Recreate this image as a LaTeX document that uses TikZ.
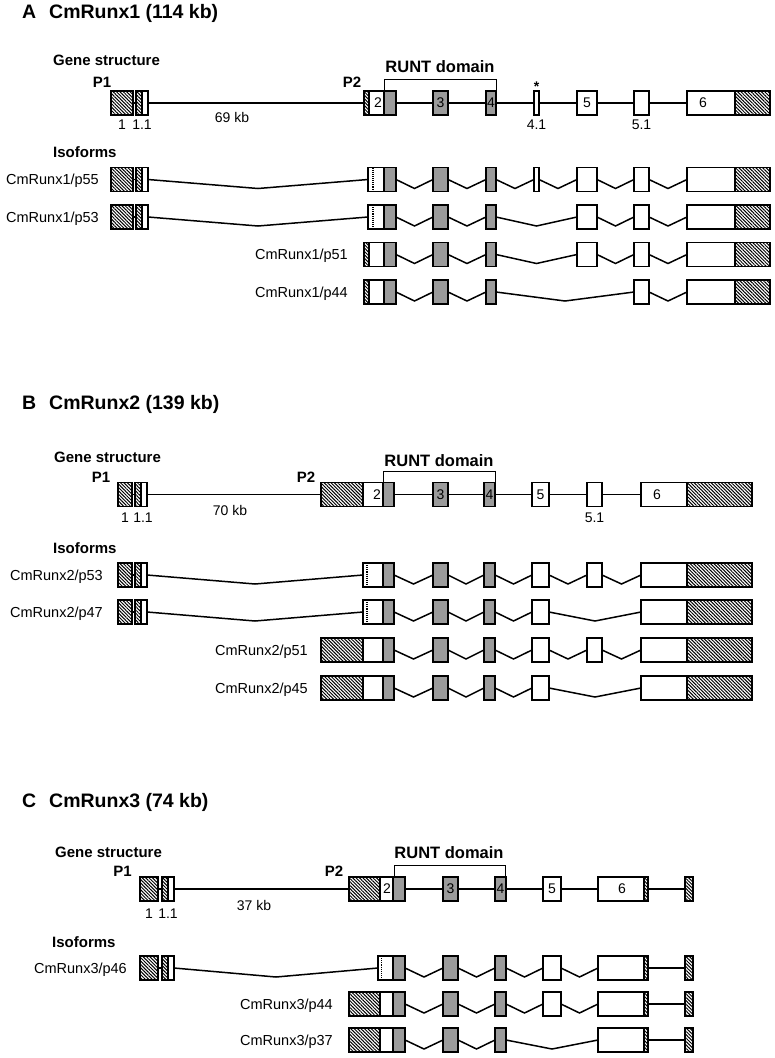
\documentclass[tikz,border=0pt]{standalone}
\usepackage{fontspec}
\setmainfont{Liberation Sans}
\usetikzlibrary{patterns.meta}
\definecolor{runtgray}{RGB}{155,155,155}

\begin{document}
\begin{tikzpicture}
  [x = 1pt, y = -1pt,
   box/.style = {draw, line width = 1.8pt},
   blank/.style = {box, fill = white},
   runt/.style = {box, fill = runtgray},
   hatch/.style = {box, preaction = {fill = white},
     pattern = {Lines[angle = -45, distance = 2.4pt, line width = 1pt]}},
   intron/.style = {line width = 1.5pt},
   tss/.style = {densely dotted, line width = 1.1pt},
   brace/.style = {line width = 1pt},
   ttl/.style = {font = \fontsize{19.5}{22}\selectfont\bfseries, anchor = base west, inner sep = 0},
   head/.style = {font = \fontsize{15}{17}\selectfont\bfseries, anchor = base west, inner sep = 0},
   prom/.style = {font = \fontsize{15}{17}\selectfont\bfseries, anchor = base, inner sep = 0},
   dom/.style = {font = \fontsize{16.5}{19}\selectfont\bfseries, anchor = base, inner sep = 0},
   iso/.style = {font = \fontsize{14.5}{17}\selectfont, anchor = base east, inner sep = 0},
   num/.style = {font = \fontsize{14}{16}\selectfont, inner sep = 0},
   sub/.style = {font = \fontsize{14}{16}\selectfont, anchor = base, inner sep = 0}]

  \useasboundingbox (0,0) rectangle (775,1058);

  % A: CmRunx1
  \foreach \row/\parts/\gaps in {
    103/{111/133/hatch, 136/142/hatch, 142/148/blank, 364/369/hatch, 369/384/blank, 384/396/runt, 433/448/runt, 486/496/runt, 534/539/blank, 577/597/blank, 634/649/blank, 687/735/blank, 735/770/hatch}/{111/770/0},
    179.5/{111/133/hatch, 136/142/hatch, 142/148/blank, 368/384/blank, 384/396/runt, 433/448/runt, 486/496/runt, 534/539/blank, 577/597/blank, 634/649/blank, 687/735/blank, 735/770/hatch}/{133/136/0, 148/368/9, 396/433/9, 448/486/9, 496/534/9, 539/577/9, 597/634/9, 649/687/9},
    217/{111/133/hatch, 136/142/hatch, 142/148/blank, 368/384/blank, 384/396/runt, 433/448/runt, 486/496/runt, 577/597/blank, 634/649/blank, 687/735/blank, 735/770/hatch}/{133/136/0, 148/368/9, 396/433/9, 448/486/9, 496/577/9, 597/634/9, 649/687/9},
    254.5/{364/369/hatch, 369/384/blank, 384/396/runt, 433/448/runt, 486/496/runt, 577/597/blank, 634/649/blank, 687/735/blank, 735/770/hatch}/{396/433/9, 448/486/9, 496/577/9, 597/634/9, 649/687/9},
    292/{364/369/hatch, 369/384/blank, 384/396/runt, 433/448/runt, 486/496/runt, 634/649/blank, 687/735/blank, 735/770/hatch}/{396/433/9, 448/486/9, 496/634/9, 649/687/9}}
  {
    \foreach \a/\b/\d in \gaps
      \draw[intron] (\a,\row) -- ({(\a+\b)/2},\row+\d) -- (\b,\row);
    \foreach \a/\b/\s in \parts
      \draw[\s] (\a,\row-12) rectangle (\b,\row+12);
  }
  \draw[tss] (373,167.5) -- (373,191.5);
  \draw[tss] (373,205) -- (373,229);
  \draw[brace] (384,91) -- (384,79) -- (496,79) -- (496,91);

  \node[ttl] (letA) at (22,18) {A};
  \node[ttl] (nameA) at (49,18) {CmRunx1 (114 kb)};
  \node[head] (geneA) at (53,65) {Gene structure};
  \node[prom] (p1A) at (102,87) {P1};
  \node[prom] (p2A) at (352,87) {P2};
  \node[dom] (runtA) at (440,72) {RUNT domain};
  \node[sub, font = \fontsize{14}{16}\selectfont\bfseries] (starA) at (536.5,91) {*};
  \node[num] (e2A) at (378,103) {2};
  \node[num] (e3A) at (440.5,103) {3};
  \node[num] (e4A) at (491,103) {4};
  \node[num] (e5A) at (587,103) {5};
  \node[num] (e6A) at (703,103) {6};
  \node[sub] (s1A) at (122,129) {1};
  \node[sub] (s11A) at (142,129) {1.1};
  \node[sub] (s41A) at (536.5,129) {4.1};
  \node[sub] (s51A) at (641.5,129) {5.1};
  \node[sub] (kbA) at (232,122) {69 kb};
  \node[head] (isoA) at (53,157) {Isoforms};
  \node[iso] (p55) at (99,184.7) {CmRunx1/p55};
  \node[iso] (p53) at (99,222.2) {CmRunx1/p53};
  \node[iso] (p51) at (348,259.7) {CmRunx1/p51};
  \node[iso] (p44) at (348,297.2) {CmRunx1/p44};

  % B: CmRunx2
  \foreach \row/\parts/\gaps in {
    494.5/{118/132/hatch, 135/141/hatch, 141/147/blank, 321/363/hatch, 363/383/blank, 383/394/runt, 433/448/runt, 484/495/runt, 532/549/blank, 587/602/blank, 641/687/blank, 687/752/hatch}/{118/752/0},
    575/{118/132/hatch, 135/141/hatch, 141/147/blank, 363/383/blank, 383/394/runt, 433/448/runt, 484/495/runt, 532/549/blank, 587/602/blank, 641/687/blank, 687/752/hatch}/{132/135/0, 147/363/9, 394/433/9, 448/484/9, 495/532/9, 549/587/9, 602/641/9},
    612/{118/132/hatch, 135/141/hatch, 141/147/blank, 363/383/blank, 383/394/runt, 433/448/runt, 484/495/runt, 532/549/blank, 641/687/blank, 687/752/hatch}/{132/135/0, 147/363/9, 394/433/9, 448/484/9, 495/532/9, 549/641/9},
    650/{321/363/hatch, 363/383/blank, 383/394/runt, 433/448/runt, 484/495/runt, 532/549/blank, 587/602/blank, 641/687/blank, 687/752/hatch}/{394/433/9, 448/484/9, 495/532/9, 549/587/9, 602/641/9},
    688/{321/363/hatch, 363/383/blank, 383/394/runt, 433/448/runt, 484/495/runt, 532/549/blank, 641/687/blank, 687/752/hatch}/{394/433/9, 448/484/9, 495/532/9, 549/641/9}}
  {
    \foreach \a/\b/\d in \gaps
      \draw[intron] (\a,\row) -- ({(\a+\b)/2},\row+\d) -- (\b,\row);
    \foreach \a/\b/\s in \parts
      \draw[\s] (\a,\row-12) rectangle (\b,\row+12);
  }
  \draw[tss] (367,563) -- (367,587);
  \draw[tss] (367,600) -- (367,624);
  \draw[brace] (383,482.5) -- (383,471) -- (495,471) -- (495,482.5);

  \node[ttl] (letB) at (22,409) {B};
  \node[ttl] (nameB) at (49,409) {CmRunx2 (139 kb)};
  \node[head] (geneB) at (54,462) {Gene structure};
  \node[prom] (p1B) at (101,482) {P1};
  \node[prom] (p2B) at (306,482) {P2};
  \node[dom] (runtB) at (439,466) {RUNT domain};
  \node[num] (e2B) at (377,494.5) {2};
  \node[num] (e3B) at (440.5,494.5) {3};
  \node[num] (e4B) at (489.5,494.5) {4};
  \node[num] (e5B) at (540.5,494.5) {5};
  \node[num] (e6B) at (657,494.5) {6};
  \node[sub] (s1B) at (125,522) {1};
  \node[sub] (s11B) at (143,522) {1.1};
  \node[sub] (s51B) at (594.5,522) {5.1};
  \node[sub] (kbB) at (230,515) {70 kb};
  \node[head] (isoB) at (53,553) {Isoforms};
  \node[iso] (p53b) at (103,580.2) {CmRunx2/p53};
  \node[iso] (p47b) at (103,617.2) {CmRunx2/p47};
  \node[iso] (p51b) at (308,655.2) {CmRunx2/p51};
  \node[iso] (p45b) at (308,693.2) {CmRunx2/p45};

  % C: CmRunx3
  \foreach \row/\parts/\gaps in {
    889/{140/158/hatch, 162/168/hatch, 168/174/blank, 349/380/hatch, 380/393/blank, 393/405/runt, 443/458/runt, 495/506/runt, 543/561/blank, 598/644/blank, 644/648/hatch, 685/693/hatch}/{140/693/0},
    968/{140/158/hatch, 162/168/hatch, 168/174/blank, 378/393/blank, 393/405/runt, 443/458/runt, 495/506/runt, 543/561/blank, 598/644/blank, 644/648/hatch, 685/693/hatch}/{158/162/0, 174/378/9, 405/443/9, 458/495/9, 506/543/9, 561/598/9, 648/685/0},
    1004/{349/380/hatch, 380/393/blank, 393/405/runt, 443/458/runt, 495/506/runt, 543/561/blank, 598/644/blank, 644/648/hatch, 685/693/hatch}/{405/443/9, 458/495/9, 506/543/9, 561/598/9, 648/685/0},
    1040/{349/380/hatch, 380/393/blank, 393/405/runt, 443/458/runt, 495/506/runt, 598/644/blank, 644/648/hatch, 685/693/hatch}/{405/443/9, 458/495/9, 506/598/9, 648/685/0}}
  {
    \foreach \a/\b/\d in \gaps
      \draw[intron] (\a,\row) -- ({(\a+\b)/2},\row+\d) -- (\b,\row);
    \foreach \a/\b/\s in \parts
      \draw[\s] (\a,\row-12) rectangle (\b,\row+12);
  }
  \draw[tss] (381.5,956) -- (381.5,980);
  \draw[brace] (394,877) -- (394,865) -- (505,865) -- (505,877);

  \node[ttl] (letC) at (22,807) {C};
  \node[ttl] (nameC) at (49,807) {CmRunx3 (74 kb)};
  \node[head] (geneC) at (55,857) {Gene structure};
  \node[prom] (p1C) at (122.5,876) {P1};
  \node[prom] (p2C) at (334,876) {P2};
  \node[dom] (runtC) at (449,858) {RUNT domain};
  \node[num] (e2C) at (387,889) {2};
  \node[num] (e3C) at (450.5,889) {3};
  \node[num] (e4C) at (500.5,889) {4};
  \node[num] (e5C) at (552,889) {5};
  \node[num] (e6C) at (622,889) {6};
  \node[sub] (s1C) at (149,918) {1};
  \node[sub] (s11C) at (168,918) {1.1};
  \node[sub] (kbC) at (254,910) {37 kb};
  \node[head] (isoC) at (52,947) {Isoforms};
  \node[iso] (p46c) at (127,973.2) {CmRunx3/p46};
  \node[iso] (p44c) at (333,1009.2) {CmRunx3/p44};
  \node[iso] (p37c) at (333,1045.2) {CmRunx3/p37};
\end{tikzpicture}
\end{document}
